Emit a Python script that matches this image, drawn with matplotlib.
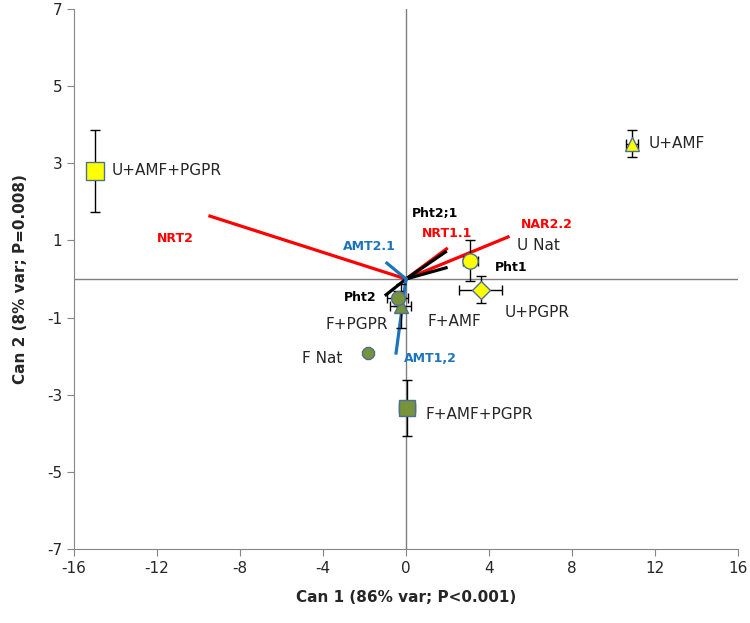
import matplotlib.pyplot as plt

plt.rcParams['axes.unicode_minus'] = False

# treatment centroids (Can 1, Can 2) with error bars
names = ['U+AMF+PGPR', 'U+AMF', 'U Nat', 'U+PGPR', 'F+AMF', 'F+PGPR', 'F Nat', 'F+AMF+PGPR']
cx = [-15.0, 10.9, 3.1, 3.6, -0.25, -0.4, -1.85, 0.05]
cy = [2.8, 3.5, 0.47, -0.28, -0.7, -0.5, -1.92, -3.34]
ex = [0.3, 0.3, 0.35, 1.05, 0.5, 0.5, 0.15, 0.4]
ey = [1.07, 0.35, 0.53, 0.35, 0.57, 0.2, 0.1, 0.72]
markers = ['s', '^', 'o', 'D', '^', 'o', '8', 's']
fills = ['#FFFF00', '#FFFF00', '#FFFF00', '#FFFF00', '#77933C', '#77933C', '#77933C', '#77933C']
msizes = [13, 10, 11, 9, 10, 10, 9, 12]
name_x = [-14.2, 11.7, 5.35, 4.75, 1.05, -3.9, -5.0, 0.95]
name_y = [2.8, 3.5, 0.88, -0.88, -1.11, -1.19, -2.07, -3.52]

# gene vectors
genes = ['NRT2', 'NAR2.2', 'NRT1.1', 'Pht2;1', 'Pht1', 'Pht2', 'AMT2.1', 'AMT1,2']
gx = [-9.45, 4.92, 1.95, 1.9, 1.93, -0.96, -0.92, -0.48]
gy = [1.63, 1.09, 0.78, 0.7, 0.29, -0.41, 0.41, -1.92]
gcol = ['#FF0000', '#FF0000', '#FF0000', 'black', 'black', 'black', '#1C75BC', '#1C75BC']
glab_x = [-11.1, 6.8, 2.0, 1.4, 5.06, -2.2, -1.76, 1.16]
glab_y = [1.06, 1.4, 1.19, 1.71, 0.31, -0.47, 0.83, -2.05]

fig = plt.figure(figsize=(7.5, 6.23), dpi=100)
ax = fig.add_axes([0.0987, 0.1188, 0.8853, 0.8668])

ax.axhline(0, color='#7f7f7f', lw=1, zorder=1)
ax.axvline(0, color='#7f7f7f', lw=1, zorder=1)

for i in range(len(genes)):
    ax.plot([0, gx[i]], [0, gy[i]], color=gcol[i], lw=2.3, zorder=2)
    ax.text(glab_x[i], glab_y[i], genes[i], color=gcol[i], fontsize=9,
            fontweight='bold', ha='center', va='center', zorder=5)

for i in range(len(names)):
    ax.errorbar(cx[i], cy[i], xerr=ex[i], yerr=ey[i], fmt='none',
                ecolor='black', elinewidth=1, capsize=3.5, zorder=3)
    ax.plot(cx[i], cy[i], marker=markers[i], ms=msizes[i], mfc=fills[i],
            mec='#4F6F8F', mew=1, ls='none', zorder=4)
    ax.text(name_x[i], name_y[i], names[i], fontsize=11, color='#262626',
            ha='left', va='center', zorder=5)

ax.set_xlim(-16, 16)
ax.set_ylim(-7, 7)
ax.set_xticks(range(-16, 17, 4))
ax.set_yticks(range(-7, 8, 2))
ax.spines['top'].set_visible(False)
ax.spines['right'].set_visible(False)
ax.spines['left'].set_color('#868686')
ax.spines['bottom'].set_color('#868686')
ax.tick_params(colors='#868686', labelcolor='#262626', labelsize=11, length=5)
ax.set_xlabel('Can 1 (86% var; P<0.001)', fontsize=11, fontweight='bold',
              color='#262626', labelpad=10)
ax.set_ylabel('Can 2 (8% var; P=0.008)', fontsize=11, fontweight='bold',
              color='#262626', labelpad=14)

fig.savefig('out.png', dpi=100)
